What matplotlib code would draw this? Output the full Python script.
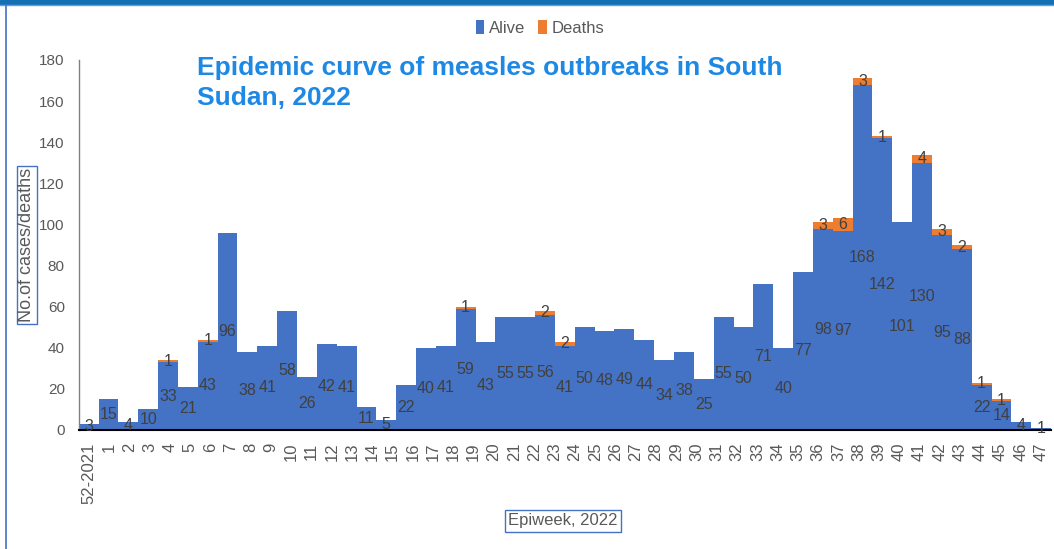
import numpy as np
import matplotlib
matplotlib.use("Agg")
import matplotlib.pyplot as plt
from matplotlib.patches import Rectangle
from matplotlib.lines import Line2D

# =============================
# DATA
# =============================
week_labels = ["52-2021"] + [str(w) for w in range(1, 48)]

alive = [3, 15, 4, 10, 33, 21, 43, 96, 38, 41, 58, 26, 42, 41, 11, 5,
         22, 40, 41, 59, 43, 55, 55, 56, 41, 50, 48, 49, 44, 34, 38, 25,
         55, 50, 71, 40, 77, 98, 97, 168, 142, 101, 130, 95, 88, 22, 14, 4, 1]

deaths = [0, 0, 0, 0, 1, 0, 1, 0, 0, 0, 0, 0, 0, 0, 0, 0,
          0, 0, 0, 1, 0, 0, 0, 2, 2, 0, 0, 0, 0, 0, 0, 0,
          0, 0, 0, 0, 0, 3, 6, 3, 1, 0, 4, 3, 2, 1, 1, 0, 0]

y_ticks = list(range(0, 181, 20))

BLUE = "#4472C4"
ORANGE = "#ED7D31"
GREY = "#595959"
LABEL = "#404040"
NARROW = ["Liberation Sans Narrow", "Liberation Sans", "DejaVu Sans"]

plt.rcParams["font.family"] = NARROW

# =============================
# FIGURE
# =============================
fig = plt.figure(figsize=(10.54, 5.49), dpi=100)
ax = fig.add_axes([0.0747, 0.2168, 0.9225, 0.674])

x = np.arange(len(alive))
alive_arr = np.array(alive)
deaths_arr = np.array(deaths)

ax.bar(x, alive_arr, width=1.0, color=BLUE, linewidth=0, label="Alive")
ax.bar(x, deaths_arr, width=1.0, bottom=alive_arr, color=ORANGE,
       linewidth=0, label="Deaths")

# value labels centred in each segment
for i in range(len(alive)):
    ax.text(x[i], alive[i] / 2, str(alive[i]), ha="center", va="center",
            fontsize=11.5, color=LABEL)
    if deaths[i] > 0:
        ax.text(x[i], alive[i] + deaths[i] / 2, str(deaths[i]),
                ha="center", va="center", fontsize=11.5, color=LABEL)

ax.set_xlim(-0.5, len(alive) - 0.5)
ax.set_ylim(0, 180)
ax.set_yticks(y_ticks)
ax.tick_params(axis="y", length=0, pad=10, labelsize=11, labelcolor=GREY)

ax.set_xticks(np.linspace(0, len(alive) - 1, len(week_labels)))
ax.set_xticklabels(week_labels, rotation=90, fontsize=12, color=GREY)
ax.tick_params(axis="x", length=0, pad=9)

for side in ["top", "right"]:
    ax.spines[side].set_visible(False)
ax.spines["left"].set_color("#808080")
ax.spines["left"].set_linewidth(1.0)
ax.spines["bottom"].set_color("black")
ax.spines["bottom"].set_linewidth(1.5)

# axis titles in boxes
fig.text(27 / 1054, 1 - 245 / 549, "No.of cases/deaths", rotation=90,
         ha="center", va="center", fontsize=13, color=GREY,
         bbox=dict(boxstyle="square,pad=0.1", fc="white", ec=BLUE, lw=1))
fig.text(563 / 1054, 1 - 521 / 549, "Epiweek, 2022",
         ha="center", va="center", fontsize=12, color=GREY,
         bbox=dict(boxstyle="square,pad=0.2", fc="white", ec=BLUE, lw=1))

# title
fig.text(197 / 1054, 1 - 56 / 549,
         "Epidemic curve of measles outbreaks in South\nSudan, 2022",
         ha="left", va="top", fontsize=19, fontweight="bold",
         color="#1E88E5", family=["Liberation Sans", "DejaVu Sans"],
         linespacing=1.3)

# legend
fig.legend(loc="center", bbox_to_anchor=(540 / 1054, 1 - 28 / 549),
           ncol=2, frameon=False, fontsize=12, labelcolor=GREY,
           handlelength=0.5, handleheight=0.9, handletextpad=0.3,
           columnspacing=0.8)

# frame decoration
fig.patches.append(Rectangle((0, 1 - 4 / 549), 1, 4 / 549,
                             transform=fig.transFigure, color="#1470B4"))
fig.lines.append(Line2D([0, 1], [1 - 5 / 549] * 2, transform=fig.transFigure,
                        color="#6A9BE0", lw=1))
fig.lines.append(Line2D([5.5 / 1054] * 2, [0, 1 - 5 / 549],
                        transform=fig.transFigure, color=BLUE, lw=1.2))

fig.savefig("out.png", dpi=100)
